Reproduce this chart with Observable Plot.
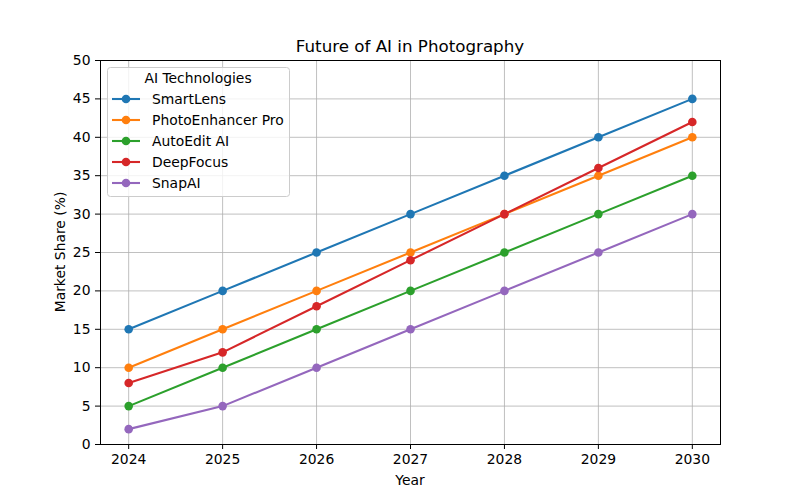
<!DOCTYPE html>
<html>
<head>
<meta charset="utf-8">
<script src="https://cdn.jsdelivr.net/npm/d3@7"></script>
<script src="https://cdn.jsdelivr.net/npm/@observablehq/plot@0.6"></script>
<style>
  html, body { margin: 0; padding: 0; background: white; }
</style>
</head>
<body>
<div id="chart"></div>
<script>
const years = [2024, 2025, 2026, 2027, 2028, 2029, 2030];
const seriesNames = ["SmartLens", "PhotoEnhancer Pro", "AutoEdit AI", "DeepFocus", "SnapAI"];
const smartLens = [15, 20, 25, 30, 35, 40, 45];
const photoEnhancerPro = [10, 15, 20, 25, 30, 35, 40];
const autoEditAI = [5, 10, 15, 20, 25, 30, 35];
const deepFocus = [8, 12, 18, 24, 30, 36, 42];
const snapAI = [2, 5, 10, 15, 20, 25, 30];
const yTicks = [0, 5, 10, 15, 20, 25, 30, 35, 40, 45, 50];
const colors = ["#1f77b4", "#ff7f0e", "#2ca02c", "#d62728", "#9467bd"];
const titleText = "Future of AI in Photography";
const xLabel = "Year";
const yLabel = "Market Share (%)";
const legendTitle = "AI Technologies";

const seriesValues = [smartLens, photoEnhancerPro, autoEditAI, deepFocus, snapAI];
const data = [];
seriesNames.forEach((name, i) => {
  years.forEach((yr, j) => data.push({series: name, year: yr, value: seriesValues[i][j]}));
});

const font = "DejaVu Sans, sans-serif";
const chart = Plot.plot({
  width: 800,
  height: 500,
  marginLeft: 100,
  marginRight: 80,
  marginTop: 60,
  marginBottom: 56,
  style: {fontFamily: font, fontSize: "13.9px", background: "white", color: "black"},
  x: {domain: [2023.7, 2030.3]},
  y: {domain: [0, 50]},
  color: {domain: seriesNames, range: colors},
  marks: [
    Plot.gridX(years, {stroke: "#b0b0b0", strokeOpacity: 1, strokeWidth: 0.8}),
    Plot.gridY(yTicks, {stroke: "#b0b0b0", strokeOpacity: 1, strokeWidth: 0.8}),
    Plot.line(data, {x: "year", y: "value", z: "series", stroke: "series", strokeWidth: 2.1}),
    Plot.dot(data, {x: "year", y: "value", fill: "series", r: 4.3}),
    Plot.frame({stroke: "black", strokeWidth: 1}),
    Plot.axisX(years, {tickFormat: d => String(d), tickSize: 5, tickPadding: 5, label: null, fontSize: 13.9}),
    Plot.axisY(yTicks, {tickSize: 5, tickPadding: 5, label: null, fontSize: 13.9})
  ]
});
document.getElementById("chart").appendChild(chart);

const svg = d3.select(chart);
svg.append("text")
  .attr("x", 410).attr("y", 52)
  .attr("text-anchor", "middle")
  .attr("font-family", font).attr("font-size", "16.7px").attr("fill", "black")
  .text(titleText);
svg.append("text")
  .attr("x", 410).attr("y", 485)
  .attr("text-anchor", "middle")
  .attr("font-family", font).attr("font-size", "13.9px").attr("fill", "black")
  .text(xLabel);
svg.append("text")
  .attr("transform", "translate(65,252) rotate(-90)")
  .attr("text-anchor", "middle")
  .attr("font-family", font).attr("font-size", "13.9px").attr("fill", "black")
  .text(yLabel);

const lg = svg.append("g");
lg.append("rect")
  .attr("x", 107.5).attr("y", 67.5).attr("width", 182).attr("height", 129).attr("rx", 3)
  .attr("fill", "white").attr("fill-opacity", 0.8).attr("stroke", "#cccccc");
lg.append("text")
  .attr("x", 198).attr("y", 83)
  .attr("text-anchor", "middle")
  .attr("font-family", font).attr("font-size", "13.9px").attr("fill", "black")
  .text(legendTitle);
seriesNames.forEach((name, i) => {
  const y = 99 + 21 * i;
  lg.append("line").attr("x1", 112).attr("x2", 140).attr("y1", y).attr("y2", y)
    .attr("stroke", colors[i]).attr("stroke-width", 2.1);
  lg.append("circle").attr("cx", 126).attr("cy", y).attr("r", 4.3).attr("fill", colors[i]);
  lg.append("text").attr("x", 152).attr("y", y + 5)
    .attr("text-anchor", "start")
    .attr("font-family", font).attr("font-size", "13.9px").attr("fill", "black")
    .text(name);
});
</script>
</body>
</html>
